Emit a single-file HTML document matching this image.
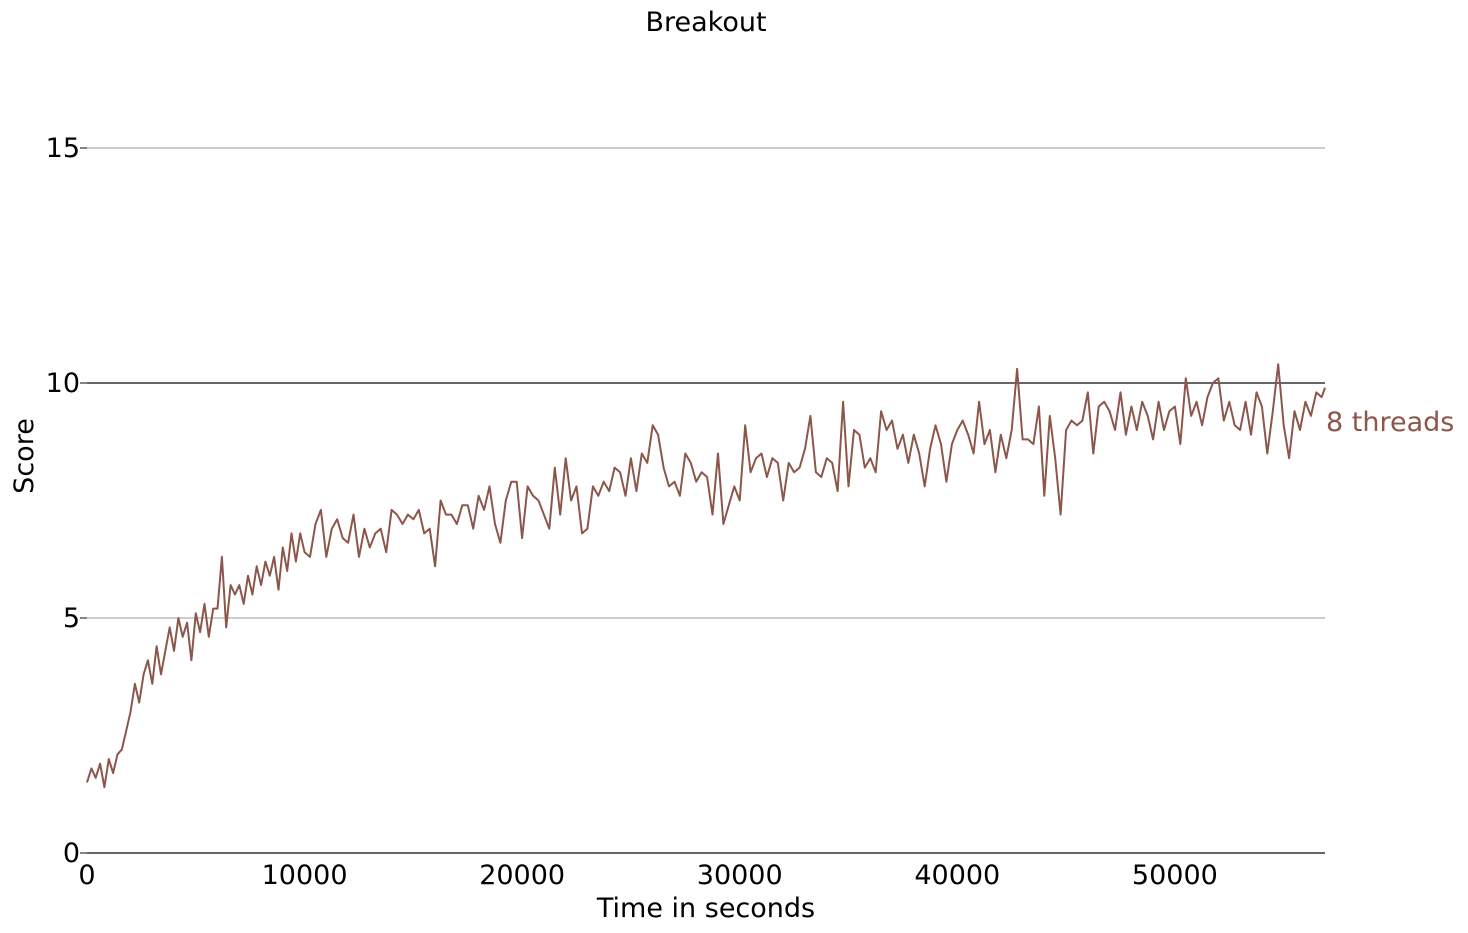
<!DOCTYPE html>
<html><head><meta charset="utf-8">
<style>
html,body{margin:0;padding:0;background:#fff;}
svg{display:block;font-family:"DejaVu Sans","Liberation Sans",sans-serif;}
</style></head>
<body>
<svg id="chart" width="1468" height="933" viewBox="0 0 1468 933">
<text x="706" y="31" font-size="27" text-anchor="middle">Breakout</text>
<g id="grid"></g><g id="axes"></g><g id="series"></g>
<text x="706" y="917" font-size="27" text-anchor="middle">Time in seconds</text>
<text transform="translate(33,456) rotate(-90)" font-size="27" text-anchor="middle">Score</text>
<text x="1326" y="431" font-size="27" fill="#8c564b">8 threads</text>
</svg>
<script>
const xTicks=[0,10000,20000,30000,40000,50000];
const yTicks=[0,5,10,15];
const times=[0,200,400,600,800,1000,1200,1400,1600,1800,2000,2200,2400,2600,2800,3000,3200,3400,3600,3800,4000,4200,4400,4600,4800,5000,5200,5400,5600,5800,6000,6200,6400,6600,6800,7000,7200,7400,7600,7800,8000,8200,8400,8600,8800,9000,9200,9400,9600,9800,
10000,10250,10500,10750,11000,11250,11500,11750,12000,12250,12500,12750,13000,13250,13500,13750,14000,14250,14500,14750,15000,15250,15500,15750,16000,16250,16500,16750,17000,17250,17500,17750,18000,18250,18500,18750,19000,19250,19500,19750,20000,20250,20500,20750,21000,21250,21500,21750,22000,22250,22500,22750,23000,23250,23500,23750,24000,24250,24500,24750,25000,25250,25500,25750,26000,26250,26500,26750,27000,27250,27500,27750,28000,28250,28500,28750,29000,29250,29500,29750,30000,30250,30500,30750,31000,31250,31500,31750,32000,32250,32500,32750,33000,33250,33500,33750,34000,34250,34500,34750,35000,35250,35500,35750,36000,36250,36500,36750,37000,37250,37500,37750,38000,38250,38500,38750,39000,39250,39500,39750,40000,40250,40500,40750,41000,41250,41500,41750,42000,42250,42500,42750,43000,43250,43500,43750,44000,44250,44500,44750,45000,45250,45500,45750,46000,46250,46500,46750,47000,47250,47500,47750,48000,48250,48500,48750,49000,49250,49500,49750,50000,50250,50500,50750,51000,51250,51500,51750,52000,52250,52500,52750,53000,53250,53500,53750,54000,54250,54500,54750,55000,55250,55500,55750,56000,56250,56500,56750,56900];
const scores=[1.5,1.8,1.6,1.9,1.4,2.0,1.7,2.1,2.2,2.6,3.0,3.6,3.2,3.8,4.1,3.6,4.4,3.8,4.3,4.8,4.3,5.0,4.6,4.9,4.1,5.1,4.7,5.3,4.6,5.2,5.2,6.3,4.8,5.7,5.5,5.7,5.3,5.9,5.5,6.1,5.7,6.2,5.9,6.3,5.6,6.5,6.0,6.8,6.2,6.8,
6.4,6.3,7.0,7.3,6.3,6.9,7.1,6.7,
6.6,7.2,6.3,6.9,6.5,6.8,6.9,6.4,
7.3,7.2,7.0,7.2,7.1,7.3,6.8,6.9,
6.1,7.5,7.2,7.2,7.0,7.4,7.4,6.9,
7.6,7.3,7.8,7.0,6.6,7.5,7.9,7.9,
6.7,7.8,7.6,7.5,7.2,6.9,8.2,7.2,
8.4,7.5,7.8,6.8,6.9,7.8,7.6,7.9,
7.7,8.2,8.1,7.6,8.4,7.7,8.5,8.3,
9.1,8.9,8.2,7.8,7.9,7.6,8.5,8.3,
7.9,8.1,8.0,7.2,8.5,7.0,7.4,7.8,
7.5,9.1,8.1,8.4,8.5,8.0,8.4,8.3,
7.5,8.3,8.1,8.2,8.6,9.3,8.1,8.0,
8.4,8.3,7.7,9.6,7.8,9.0,8.9,8.2,
8.4,8.1,9.4,9.0,9.2,8.6,8.9,8.3,
8.9,8.5,7.8,8.6,9.1,8.7,7.9,8.7,
9.0,9.2,8.9,8.5,9.6,8.7,9.0,8.1,
8.9,8.4,9.0,10.3,8.8,8.8,8.7,9.5,
7.6,9.3,8.4,7.2,9.0,9.2,9.1,9.2,
9.8,8.5,9.5,9.6,9.4,9.0,9.8,8.9,
9.5,9.0,9.6,9.3,8.8,9.6,9.0,9.4,
9.5,8.7,10.1,9.3,9.6,9.1,9.7,10.0,
10.1,9.2,9.6,9.1,9.0,9.6,8.9,9.8,
9.5,8.5,9.4,10.4,9.1,8.4,9.4,9.0,
9.6,9.3,9.8,9.7,9.9];
const NS='http://www.w3.org/2000/svg';
const X0=87,X1=1325,Y0=853,Y1=148,xMax=56900,yMax=15;
function xs(t){return X0+(X1-X0)*t/xMax;}
function ys(v){return Y0-(Y0-Y1)*v/yMax;}
function mk(tag,attrs,parent){const e=document.createElementNS(NS,tag);for(const k in attrs)e.setAttribute(k,attrs[k]);parent.appendChild(e);return e;}
const grid=document.getElementById('grid'),axes=document.getElementById('axes'),series=document.getElementById('series');
yTicks.forEach(v=>{
  const y=ys(v);
  const col=v===0||v===10?'#333':'#b0b0b0';
  const l=mk('line',{x1:X0,x2:X1,y1:y,y2:y,stroke:col,'stroke-width':(v===0||v===10)?1.6:1.2},grid);
  
  
  const tk=mk('line',{x1:X0-7,x2:X0,y1:y,y2:y,stroke:'#333','stroke-width':1.2},axes);
  
  
  const t=mk('text',{x:X0-7,y:y+9,'font-size':27,'text-anchor':'end'},axes);
  t.textContent=v;
  
  
});
xTicks.forEach(v=>{
  const x=xs(v);
  const t=mk('text',{x:x,y:884,'font-size':27,'text-anchor':'middle'},axes);
  t.textContent=v;
  
  
});
const pts=times.map((t,i)=>xs(t).toFixed(1)+','+ys(scores[i]).toFixed(1)).join(' ');
const pl=mk('polyline',{points:pts,fill:'none',stroke:'#8c564b','stroke-width':2,'stroke-linejoin':'round'},series);


</script>
</body></html>
